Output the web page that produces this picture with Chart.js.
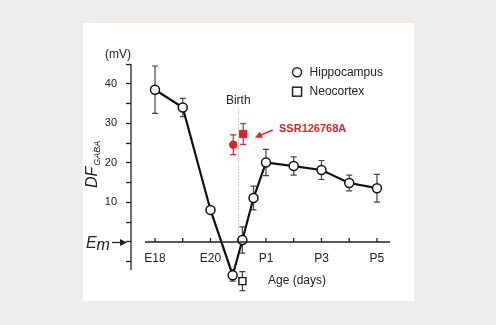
<!DOCTYPE html>
<html>
<head>
<meta charset="utf-8">
<script src="https://cdn.jsdelivr.net/npm/chart.js@4"></script>
<style>
  html, body { margin: 0; padding: 0; background: #eeedeb; }
  #wrap { width: 496px; height: 325px; position: relative; }
</style>
</head>
<body>
<div id="wrap"><canvas id="chart" width="496" height="325"></canvas></div>
<script>
// tick labels per day index (E18 .. P5)
const dayLabels = ['E18', '', 'E20', '', 'P1', '', 'P3', '', 'P5'];

// hippocampus (open circles)
const hippoDays = [0, 1, 2, 2.8, 3.15, 3.55, 4, 5, 6, 7, 8];
const hippoVals = [38.5, 34, 8.1, -8.4, 0.5, 11.1, 20.1, 19.2, 18.2, 14.9, 13.6];
const hippoErr = [6, 2.3, 0.8, 1.5, 3.3, 3, 3.3, 2.3, 2.4, 2, 3.5];

// neocortex (open square)
const neoDays = [3.15];
const neoVals = [-9.9];
const neoErr = [2.4];

// SSR126768A treated (red)
const ssrHippoDays = [2.82];
const ssrHippoVals = [24.6];
const ssrHippoErr = [2.5];
const ssrNeoDays = [3.18];
const ssrNeoVals = [27.3];
const ssrNeoErr = [2.6];

const RED = '#d8262b';
const INK = '#222';
const FONT = "'Liberation Sans', Arial, sans-serif";
const AXIS_BOTTOM = -7.08;

function points(xs, ys) {
  return xs.map((x, i) => ({ x: x, y: ys[i] }));
}

const panelPlugin = {
  id: 'panel',
  beforeDraw(chart) {
    const ctx = chart.ctx;
    ctx.save();
    ctx.fillStyle = '#ffffff';
    ctx.fillRect(83, 23, 331, 278);
    ctx.restore();
  }
};

const errorBarPlugin = {
  id: 'errorBars',
  beforeDatasetsDraw(chart) {
    const ctx = chart.ctx;
    const xs = chart.scales.x, ys = chart.scales.y;
    ctx.save();
    // birth line
    ctx.strokeStyle = '#9a9a9a';
    ctx.lineWidth = 1;
    ctx.setLineDash([1, 2]);
    const bx = Math.round(xs.getPixelForValue(3)) + 0.5;
    ctx.beginPath();
    ctx.moveTo(bx, ys.getPixelForValue(33.5));
    ctx.lineTo(bx, ys.getPixelForValue(0));
    ctx.stroke();
    ctx.setLineDash([]);

    chart.data.datasets.forEach(ds => {
      if (!ds.errors) return;
      ctx.strokeStyle = ds.errorColor;
      ctx.lineWidth = 1.2;
      ds.data.forEach((p, i) => {
        const e = ds.errors[i];
        const x = xs.getPixelForValue(p.x);
        const y1 = ys.getPixelForValue(p.y + e);
        const y2 = ys.getPixelForValue(p.y - e);
        ctx.beginPath();
        ctx.moveTo(x, y1); ctx.lineTo(x, y2);
        ctx.moveTo(x - 3, y1); ctx.lineTo(x + 3, y1);
        ctx.moveTo(x - 3, y2); ctx.lineTo(x + 3, y2);
        ctx.stroke();
      });
    });
    ctx.restore();
  }
};

const decorPlugin = {
  id: 'decor',
  afterDraw(chart) {
    const ctx = chart.ctx;
    const xs = chart.scales.x, ys = chart.scales.y;
    const y0 = ys.getPixelForValue(0);
    ctx.save();

    // y axis line (stops at AXIS_BOTTOM, points below it hang free)
    ctx.strokeStyle = INK;
    ctx.lineWidth = 1.3;
    const ax = chart.chartArea.left;
    ctx.beginPath();
    ctx.moveTo(ax, ys.getPixelForValue(45));
    ctx.lineTo(ax, ys.getPixelForValue(AXIS_BOTTOM));
    ctx.stroke();

    // x axis line with upward ticks
    ctx.beginPath();
    ctx.moveTo(xs.getPixelForValue(-0.36), y0);
    ctx.lineTo(xs.getPixelForValue(8.47), y0);
    for (let d = 0; d < dayLabels.length; d++) {
      const px = xs.getPixelForValue(d);
      ctx.moveTo(px, y0);
      ctx.lineTo(px, y0 - 4);
    }
    ctx.stroke();

    // Em arrow
    ctx.fillStyle = INK;
    ctx.font = 'italic 16px ' + FONT;
    ctx.textBaseline = 'alphabetic';
    ctx.textAlign = 'left';
    ctx.fillText('E', 86, y0 + 6);
    ctx.fillText('m', 96.5, y0 + 8);
    ctx.beginPath();
    ctx.moveTo(112, y0 + 0.5);
    ctx.lineTo(122, y0 + 0.5);
    ctx.stroke();
    ctx.beginPath();
    ctx.moveTo(127, y0 + 0.5);
    ctx.lineTo(120, y0 - 3);
    ctx.lineTo(120, y0 + 4);
    ctx.closePath();
    ctx.fill();

    // y title DF_GABA
    ctx.save();
    ctx.translate(97, 188);
    ctx.rotate(-Math.PI / 2);
    ctx.font = 'italic 16px ' + FONT;
    ctx.fillText('DF', 0, 0);
    const w = ctx.measureText('DF').width;
    ctx.font = 'italic 9px ' + FONT;
    ctx.fillText('GABA', w + 1, 3);
    ctx.restore();

    // (mV)
    ctx.font = '12px ' + FONT;
    ctx.textAlign = 'center';
    ctx.textBaseline = 'middle';
    ctx.fillText('(mV)', 118, 55);

    // Birth
    ctx.fillText('Birth', xs.getPixelForValue(3), 101);

    // Age (days)
    ctx.fillText('Age (days)', 297, 281);

    // legend
    const lx = xs.getPixelForValue(5.12);
    const ly1 = ys.getPixelForValue(42.9);
    const ly2 = ys.getPixelForValue(38.0);
    ctx.lineWidth = 1.5;
    ctx.strokeStyle = INK;
    ctx.fillStyle = '#fff';
    ctx.beginPath();
    ctx.arc(lx, ly1, 4.5, 0, Math.PI * 2);
    ctx.fill(); ctx.stroke();
    ctx.fillRect(lx - 4.5, ly2 - 4.5, 9, 9);
    ctx.strokeRect(lx - 4.5, ly2 - 4.5, 9, 9);
    ctx.fillStyle = INK;
    ctx.textAlign = 'left';
    ctx.font = '12px ' + FONT;
    ctx.fillText('Hippocampus', lx + 12.5, ly1 + 0.5);
    ctx.fillText('Neocortex', lx + 12.5, ly2 + 0.5);

    // SSR label + arrow
    ctx.fillStyle = RED;
    ctx.strokeStyle = RED;
    ctx.font = 'bold 11px ' + FONT;
    ctx.fillText('SSR126768A', xs.getPixelForValue(4.47), ys.getPixelForValue(28.6));
    const ax1 = xs.getPixelForValue(4.24), ay1 = ys.getPixelForValue(28.3);
    const ax2 = xs.getPixelForValue(3.6), ay2 = ys.getPixelForValue(26.4);
    const ang = Math.atan2(ay2 - ay1, ax2 - ax1);
    ctx.lineWidth = 1.6;
    ctx.beginPath();
    ctx.moveTo(ax1, ay1);
    ctx.lineTo(ax2 - 5 * Math.cos(ang), ay2 - 5 * Math.sin(ang));
    ctx.stroke();
    ctx.beginPath();
    ctx.moveTo(ax2, ay2);
    ctx.lineTo(ax2 - 7 * Math.cos(ang) + 3.5 * Math.sin(ang), ay2 - 7 * Math.sin(ang) - 3.5 * Math.cos(ang));
    ctx.lineTo(ax2 - 7 * Math.cos(ang) - 3.5 * Math.sin(ang), ay2 - 7 * Math.sin(ang) + 3.5 * Math.cos(ang));
    ctx.closePath();
    ctx.fill();

    ctx.restore();
  }
};

new Chart(document.getElementById('chart'), {
  type: 'scatter',
  data: {
    datasets: [
      {
        label: 'Hippocampus',
        data: points(hippoDays, hippoVals),
        errors: hippoErr,
        errorColor: '#444',
        showLine: true,
        borderColor: '#111',
        borderWidth: 2.2,
        pointBackgroundColor: '#fff',
        pointBorderColor: '#111',
        pointBorderWidth: 1.5,
        pointRadius: 4.5,
        clip: false
      },
      {
        label: 'Neocortex',
        data: points(neoDays, neoVals),
        errors: neoErr,
        errorColor: '#444',
        pointStyle: 'rect',
        pointBackgroundColor: '#fff',
        pointBorderColor: '#111',
        pointBorderWidth: 1.4,
        pointRadius: 5,
        clip: false
      },
      {
        label: 'SSR hippocampus',
        data: points(ssrHippoDays, ssrHippoVals),
        errors: ssrHippoErr,
        errorColor: RED,
        pointBackgroundColor: RED,
        pointBorderColor: RED,
        pointRadius: 3.8,
        clip: false
      },
      {
        label: 'SSR neocortex',
        data: points(ssrNeoDays, ssrNeoVals),
        errors: ssrNeoErr,
        errorColor: RED,
        pointStyle: 'rect',
        pointBackgroundColor: RED,
        pointBorderColor: RED,
        pointRadius: 5.2,
        clip: false
      }
    ]
  },
  options: {
    responsive: false,
    animation: false,
    devicePixelRatio: 1,
    layout: { padding: { left: 83, right: 106, top: 64, bottom: 31.6 } },
    plugins: {
      legend: { display: false },
      tooltip: { enabled: false }
    },
    scales: {
      x: {
        type: 'linear',
        position: { y: 0 },
        min: -0.865,
        max: 8.47,
        grid: { display: false, drawTicks: false },
        border: { display: false },
        ticks: {
          stepSize: 1,
          includeBounds: false,
          autoSkip: false,
          maxRotation: 0,
          padding: 10,
          color: INK,
          font: { family: FONT, size: 12 },
          callback: v => (Number.isInteger(v) && v >= 0 && v < dayLabels.length) ? dayLabels[v] : ''
        }
      },
      y: {
        min: -13,
        max: 45,
        afterFit: scale => { scale.width = 48; },
        afterBuildTicks: scale => { scale.ticks = scale.ticks.filter(t => t.value >= -5); },
        grid: { drawOnChartArea: false, drawTicks: true, tickLength: 5, tickColor: INK, tickWidth: 1.3 },
        border: { display: false },
        ticks: {
          stepSize: 5,
          includeBounds: false,
          padding: 9,
          color: INK,
          font: { family: FONT, size: 11 },
          callback: v => (v > 0 && v % 10 === 0) ? String(v) : ''
        }
      }
    }
  },
  plugins: [panelPlugin, errorBarPlugin, decorPlugin]
});
</script>
</body>
</html>
